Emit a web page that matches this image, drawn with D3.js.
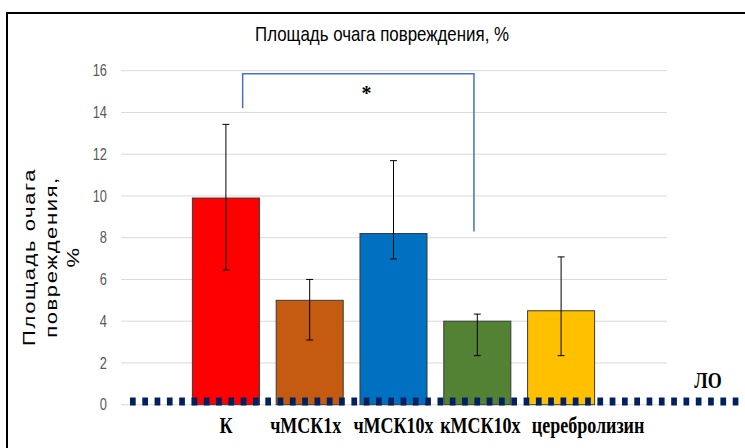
<!DOCTYPE html>
<html>
<head>
<meta charset="utf-8">
<script src="https://cdn.jsdelivr.net/npm/d3@7"></script>
<style>
  body { margin: 0; background: #fff; }
  svg { display: block; }
</style>
</head>
<body>
<svg id="chart" width="745" height="448"></svg>
<script>
// data
const categories = ["К", "чМСК1х", "чМСК10х", "кМСК10х", "церебролизин"];
const values = [9.9, 5.0, 8.2, 4.0, 4.5];
const errLow = [6.45, 3.1, 6.98, 2.35, 2.35];
const errHigh = [13.43, 6.0, 11.69, 4.34, 7.08];
const barColors = ["#ff0000", "#c55a11", "#0070c0", "#548235", "#ffc000"];
const yTicks = [0, 2, 4, 6, 8, 10, 12, 14, 16];
const titleText = "Площадь очага повреждения, %";
const yTitleLines = ["Площадь очага", "повреждения,", "%"];
const loValue = 0.15;
const loLabel = "ЛО";
// significance bracket: from, to, levels of left end, top, right end
const bracketCats = ["К", "кМСК10х"];
const bracketLevels = [14.2, 15.85, 8.3];
const bracketMark = "*";

// labels were hand placed text boxes in the original, nudged off centre (px)
const labelNudge = [0, -4, 0, 3, 27];

const svg = d3.select("#chart");

// frame
svg.append("rect")
  .attr("x", 7).attr("y", 13)
  .attr("width", 780).attr("height", 480)
  .attr("fill", "none")
  .attr("stroke", "#000")
  .attr("stroke-width", 2);

const x = d3.scaleBand()
  .domain(categories)
  .range([184, 603])
  .paddingInner(0.2)
  .paddingOuter(0.1);

const y = d3.scaleLinear()
  .domain([0, 16])
  .range([404.7, 70.7]);

// grid
svg.append("g")
  .selectAll("line")
  .data(yTicks)
  .enter()
  .append("line")
  .attr("x1", 121).attr("x2", 667)
  .attr("y1", d => y(d)).attr("y2", d => y(d))
  .attr("stroke", "#d9d9d9")
  .attr("stroke-width", 1);

// y axis labels (narrow look of the original)
const yAxis = svg.append("g")
  .attr("transform", "translate(121,0)")
  .call(d3.axisLeft(y).tickValues(yTicks).tickSize(0).tickPadding(0));
yAxis.select(".domain").remove();
yAxis.selectAll("text")
  .attr("font-family", "'Liberation Sans', Arial, sans-serif")
  .attr("font-size", 15.5)
  .attr("fill", "#595959")
  .attr("x", -14 / 0.83)
  .attr("transform", "scale(0.83,1.05)");

// title
svg.append("text")
  .attr("transform", "translate(382,41) scale(1,1.2)")
  .attr("x", 0).attr("y", 0)
  .attr("text-anchor", "middle")
  .attr("font-family", "'Liberation Sans', Arial, sans-serif")
  .attr("font-size", 17)
  .attr("textLength", 254)
  .attr("lengthAdjust", "spacingAndGlyphs")
  .attr("fill", "#000")
  .text(titleText);

// y title
const yt = svg.append("text")
  .attr("transform", "translate(0,257) rotate(-90) scale(1.3,1)")
  .attr("text-anchor", "middle")
  .attr("font-family", "'Liberation Sans', Arial, sans-serif")
  .attr("font-size", 17)
  .attr("letter-spacing", 1.2)
  .attr("fill", "#000");
yt.selectAll("tspan")
  .data(yTitleLines)
  .enter()
  .append("tspan")
  .attr("x", 0)
  .attr("y", (d, i) => 35 + i * 22)
  .text(d => d);

// bars
svg.append("g")
  .selectAll("rect")
  .data(categories)
  .enter()
  .append("rect")
  .attr("x", d => x(d))
  .attr("y", (d, i) => y(values[i]))
  .attr("width", x.bandwidth())
  .attr("height", (d, i) => y(0) - y(values[i]))
  .attr("fill", (d, i) => barColors[i])
  .attr("stroke", "#3a3a3a")
  .attr("stroke-width", 1);

// error bars
const cx = d => x(d) + x.bandwidth() / 2;
const eb = svg.append("g")
  .selectAll("g")
  .data(categories)
  .enter()
  .append("g")
  .attr("stroke", "#000")
  .attr("stroke-width", 1);
eb.append("line")
  .attr("x1", cx).attr("x2", cx)
  .attr("y1", (d, i) => y(errLow[i]))
  .attr("y2", (d, i) => y(errHigh[i]));
eb.append("line")
  .attr("x1", d => cx(d) - 3.5).attr("x2", d => cx(d) + 3.5)
  .attr("y1", (d, i) => y(errHigh[i]))
  .attr("y2", (d, i) => y(errHigh[i]));
eb.append("line")
  .attr("x1", d => cx(d) - 3.5).attr("x2", d => cx(d) + 3.5)
  .attr("y1", (d, i) => y(errLow[i]))
  .attr("y2", (d, i) => y(errLow[i]));

// ЛО dotted line
svg.append("line")
  .attr("x1", 130).attr("x2", 760)
  .attr("y1", y(loValue)).attr("y2", y(loValue))
  .attr("stroke", "#002060")
  .attr("stroke-width", 8)
  .attr("stroke-dasharray", "5.7 6.6");

svg.append("text")
  .attr("transform", "translate(708,388) scale(1,1.25)")
  .attr("text-anchor", "middle")
  .attr("font-family", "'Liberation Serif', 'Times New Roman', serif")
  .attr("font-weight", "bold")
  .attr("font-size", 18)
  .attr("fill", "#000")
  .text(loLabel);

// category labels
svg.append("g")
  .selectAll("text")
  .data(categories)
  .enter()
  .append("text")
  .attr("transform", (d, i) => "translate(" + (cx(d) + labelNudge[i]) + ",433) scale(1,1.28)")
  .attr("text-anchor", "middle")
  .attr("font-family", "'Liberation Serif', 'Times New Roman', serif")
  .attr("font-weight", "bold")
  .attr("font-size", 18)
  .attr("fill", "#000")
  .text(d => d);

// significance bracket
const bx1 = x(bracketCats[0]) + x.bandwidth() * 0.75;
const bx2 = x(bracketCats[1]) + x.bandwidth() * 0.45;
svg.append("path")
  .attr("d", d3.line()([
    [bx1, y(bracketLevels[0])],
    [bx1, y(bracketLevels[1])],
    [bx2, y(bracketLevels[1])],
    [bx2, y(bracketLevels[2])]
  ]))
  .attr("fill", "none")
  .attr("stroke", "#4472c4")
  .attr("stroke-width", 1.5);

svg.append("text")
  .attr("x", bx1 + (bx2 - bx1) * 0.535)
  .attr("y", 100)
  .attr("text-anchor", "middle")
  .attr("font-family", "'Liberation Serif', 'Times New Roman', serif")
  .attr("font-weight", "bold")
  .attr("font-size", 20)
  .attr("fill", "#000")
  .text(bracketMark);
</script>
</body>
</html>
